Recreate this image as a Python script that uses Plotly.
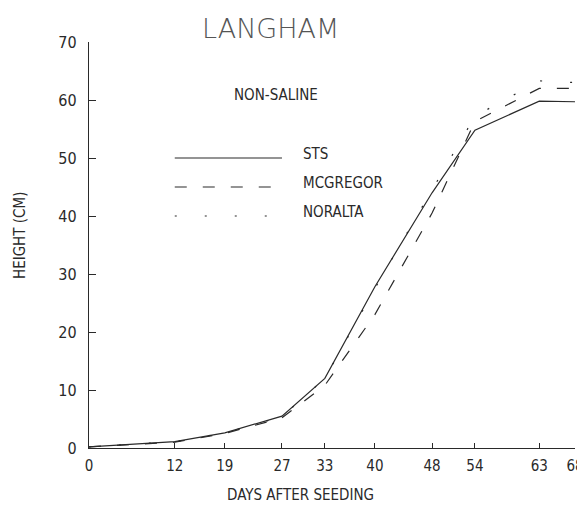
import plotly.graph_objects as go

days = [0, 12, 19, 27, 33, 40, 48, 54, 63, 68]
sts = [0.2, 1.1, 2.6, 5.5, 12.0, 27.8, 44.0, 54.8, 59.8, 59.7]
mcgregor = [0.2, 1.0, 2.5, 5.2, 10.8, 23.0, 40.5, 56.3, 62.0, 62.0]
noralta = [0.2, 1.1, 2.6, 5.4, 12.0, 27.5, 44.5, 57.2, 63.3, 63.0]
x_ticks = [0, 12, 19, 27, 33, 40, 48, 54, 63, 68]
y_ticks = [0, 10, 20, 30, 40, 50, 60, 70]

FONT = "DejaVu Sans Condensed, Liberation Sans Narrow, DejaVu Sans"
INK = "#2a2a2a"
OFF = 8  # page body margin offset
W, H = 585 - OFF, 510 - OFF
L, T = 89 - OFF, 42 - OFF
R = W - (575 - OFF)
B = H - (448 - OFF)

series = [
    ("STS", sts, "solid"),
    ("MCGREGOR", mcgregor, "12px,16px"),
    ("NORALTA", noralta, "2px,28px"),
]

fig = go.Figure()
for name, vals, dash in series:
    fig.add_trace(go.Scatter(x=days, y=vals, mode="lines", name=name,
                             line=dict(color=INK, width=1.2, dash=dash),
                             showlegend=False, cliponaxis=False))

# manual legend (samples + labels) in data coordinates
leg_y = [50, 45, 40]
for (name, vals, dash), ly in zip(series, leg_y):
    fig.add_shape(type="line", xref="x", yref="y", x0=12, x1=27, y0=ly, y1=ly,
                  line=dict(color=INK, width=1.2, dash=dash))
    fig.add_annotation(x=29.6, y=ly + 0.7, xref="x", yref="y", text=name,
                       showarrow=False, xanchor="left", yanchor="middle",
                       font=dict(family=FONT, size=15, color=INK))

def px_x(p):
    return (p - OFF - L) / (W - L - R)

def px_y(p):
    return (H - B - (p - OFF)) / (H - T - B)

fig.add_annotation(x=px_x(276), y=px_y(95), xref="paper", yref="paper",
                   text="NON-SALINE", showarrow=False, xanchor="center",
                   yanchor="middle", font=dict(family=FONT, size=15, color=INK))
fig.add_annotation(x=px_x(270), y=px_y(29), xref="paper", yref="paper",
                   text="LANGHAM", showarrow=False, xanchor="center",
                   yanchor="middle",
                   font=dict(family="DejaVu Sans", size=27, color="#555", weight=200))
fig.add_annotation(x=px_x(20), y=px_y(236), xref="paper", yref="paper",
                   text="HEIGHT (CM)", showarrow=False, textangle=-90,
                   xanchor="center", yanchor="middle",
                   font=dict(family=FONT, size=15, color=INK))
fig.add_annotation(x=px_x(300), y=px_y(495), xref="paper", yref="paper",
                   text="DAYS AFTER SEEDING", showarrow=False,
                   xanchor="center", yanchor="middle",
                   font=dict(family=FONT, size=15, color=INK))

fig.update_layout(
    width=W, height=H,
    margin=dict(l=L, r=R, t=T, b=B, autoexpand=False),
    paper_bgcolor="white", plot_bgcolor="white",
    xaxis=dict(range=[0, 68], tickvals=x_ticks, ticktext=[str(v) for v in x_ticks],
               ticks="inside", ticklen=5, tickcolor=INK, showline=True,
               linecolor=INK, linewidth=1.3, showgrid=False, zeroline=False,
               automargin=False, ticklabelstandoff=4,
               tickfont=dict(family=FONT, size=15, color=INK)),
    yaxis=dict(range=[0, 70], tickvals=y_ticks, ticks="inside", ticklen=7,
               tickcolor=INK, showline=True, linecolor=INK, linewidth=1.3,
               showgrid=False, zeroline=False, automargin=False,
               ticklabelstandoff=8,
               tickfont=dict(family=FONT, size=16, color=INK)),
)

fig.write_html("out.html")
